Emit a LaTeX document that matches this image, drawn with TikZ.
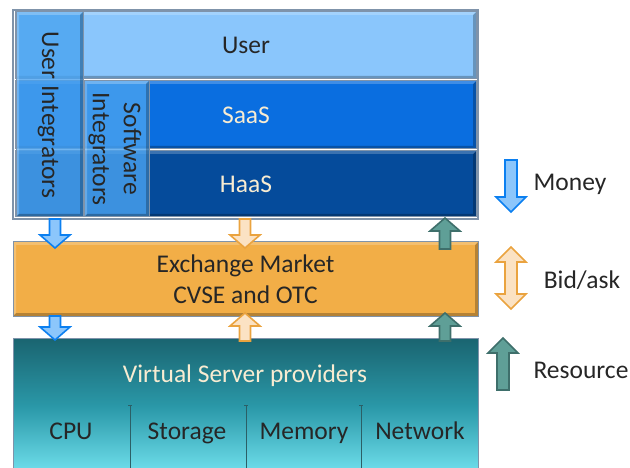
\documentclass[tikz,border=0pt]{standalone}
\usepackage{fontspec}
\setmainfont{Carlito}

\definecolor{frameclr}{HTML}{7F93AA}
\definecolor{txtdark}{HTML}{262626}
\definecolor{txtlight}{HTML}{F8ECD2}
\definecolor{userclr}{HTML}{8AC6FC}
\definecolor{saasclr}{HTML}{0A6EE0}
\definecolor{haasclr}{HTML}{054B9B}
\definecolor{integclr}{HTML}{4AA3F0}
\definecolor{marketclr}{HTML}{F2AE47}
\definecolor{vsptop}{HTML}{1A6470}
\definecolor{vspmid}{HTML}{2A98A8}
\definecolor{vspbot}{HTML}{72E2EF}
\definecolor{divclr}{HTML}{2B5F66}
\definecolor{moneyfill}{HTML}{8CC6FB}
\definecolor{moneydraw}{HTML}{0B7FF0}
\definecolor{bidfill}{HTML}{FBE2C3}
\definecolor{biddraw}{HTML}{EAA33F}
\definecolor{resfill}{HTML}{5F9F97}
\definecolor{resdraw}{HTML}{3E6F6B}

% block arrow: style, x, tail y, tip y, direction (1 down, -1 up),
% shaft half width, head half width, head length
\newcommand{\blockarrow}[8]{%
  \draw[#1] ({#2-#6},{#3}) -- ({#2+#6},{#3}) -- ({#2+#6},{#4-(#5)*#8})
    -- ({#2+#7},{#4-(#5)*#8}) -- ({#2},{#4}) -- ({#2-#7},{#4-(#5)*#8})
    -- ({#2-#6},{#4-(#5)*#8}) -- cycle;}

\begin{document}
\begin{tikzpicture}[x=1pt,y=-1pt,line join=miter,
  lbl/.style={font=\fontsize{25.5}{31}\selectfont,text=txtdark,inner sep=0pt,align=center},
  lbllight/.style={lbl,text=txtlight},
  bevel/.style={path picture={
    \fill[black,opacity=0.25]
      (path picture bounding box.south west) -- (path picture bounding box.south east)
      -- (path picture bounding box.north east)
      -- ([shift={(-3pt,-3pt)}]path picture bounding box.north east)
      -- ([shift={(-3pt,3pt)}]path picture bounding box.south east)
      -- ([shift={(3pt,3pt)}]path picture bounding box.south west) -- cycle;
    \fill[white,opacity=0.22]
      (path picture bounding box.south west) -- (path picture bounding box.north west)
      -- (path picture bounding box.north east)
      -- ([shift={(-3pt,-3pt)}]path picture bounding box.north east)
      -- ([shift={(3pt,-3pt)}]path picture bounding box.north west)
      -- ([shift={(3pt,3pt)}]path picture bounding box.south west) -- cycle;
  }},
  layer/.style={draw=frameclr,line width=1pt,inner sep=0pt,bevel},
  column/.style={layer,fill=integclr,fill opacity=0.8,text opacity=1},
  moneyarrow/.style={fill=moneyfill,draw=moneydraw,line width=1.6pt},
  bidarrow/.style={fill=bidfill,draw=biddraw,line width=1.6pt},
  resarrow/.style={fill=resfill,draw=resdraw,line width=1.6pt},
  divider/.style={draw=divclr,line width=1pt}
]
\useasboundingbox (0,0) rectangle (630,468);

% service stack
\node[layer,fill=userclr,minimum width=461,minimum height=67] (user) at (245.5,45.5) {};
\node[layer,fill=saasclr,minimum width=461,minimum height=68] (saas) at (245.5,115) {};
\node[layer,fill=haasclr,minimum width=461,minimum height=66] (haas) at (245.5,184) {};
\node[lbl,anchor=base] (userlbl) at (246,54) {User};
\node[lbllight,anchor=base] (saaslbl) at (246,124) {SaaS};
\node[lbllight,anchor=base] (haaslbl) at (246,193) {HaaS};

% integrator columns
\node[column,minimum width=67,minimum height=205] (uint) at (49.5,114.5) {};
\node[column,minimum width=65,minimum height=136] (sint) at (116.5,149) {};
\node[lbl,rotate=-90] (uintlbl) at (48,115) {User Integrators};
\node[lbl,rotate=-90] (sintlbl) at (115,149) {Software\\Integrators};

% outer frame
\node[draw=frameclr,line width=1.5pt,minimum width=465,minimum height=209,inner sep=0pt] (frame) at (245.5,114.5) {};

% exchange market
\node[layer,fill=marketclr,minimum width=465,minimum height=74] (market) at (245.5,279) {};
\node[lbl] (marketlbl) at (245.5,279.5) {Exchange Market\\CVSE and OTC};

% virtual server providers
\node[draw=frameclr,line width=1pt,inner sep=0pt,minimum width=465,minimum height=137,
  top color=vsptop,bottom color=vspbot,middle color=vspmid] (vsp) at (245.5,406.5) {};
\node[lbllight,anchor=base] (vsplbl) at (245,382) {Virtual Server providers};
\node[lbl,anchor=base] (cpu) at (71,439) {CPU};
\node[lbl,anchor=base] (storage) at (187,439) {Storage};
\node[lbl,anchor=base] (memory) at (304,439) {Memory};
\node[lbl,anchor=base] (network) at (420,439) {Network};
\foreach \dx in {130,246,361}{
  \draw[divider] (\dx,405) -- (\dx,470);
  \draw[divider,line width=0.8pt] ({\dx-2},405) -- ({\dx+2},405);
}

% flows between the layers
\blockarrow{moneyarrow}{55}{219}{248}{1}{5.5}{15}{13}
\blockarrow{moneyarrow}{55}{316}{340}{1}{5.5}{15}{13}
\blockarrow{bidarrow}{245}{219}{248}{1}{5.5}{15}{13}
\blockarrow{bidarrow}{245}{341}{313}{-1}{5.5}{15}{13}
\blockarrow{resarrow}{445}{249}{218}{-1}{5.5}{15}{13}
\blockarrow{resarrow}{445}{341}{313}{-1}{5.5}{15}{13}

% legend
\blockarrow{moneyarrow}{511}{160}{212}{1}{6}{15}{15}
\draw[bidarrow] (511,247) -- (526,262) -- (517,262) -- (517,294) -- (526,294)
  -- (511,309) -- (496,294) -- (505,294) -- (505,262) -- (496,262) -- cycle;
\blockarrow{resarrow}{503}{390}{338}{-1}{6}{15}{15}
\node[lbl,anchor=base] (money) at (570,191) {Money};
\node[lbl,anchor=base] (bidask) at (582,288) {Bid/ask};
\node[lbl,anchor=base] (resource) at (581,378) {Resource};
\end{tikzpicture}
\end{document}
